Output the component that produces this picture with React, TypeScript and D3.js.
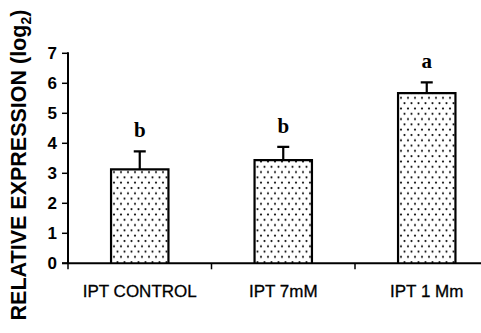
import { useRef, useEffect } from 'react';
import * as d3 from 'd3';

const categories = ['IPT CONTROL', 'IPT 7mM', 'IPT 1 Mm'];
const means = [3.13, 3.44, 5.67];
const errors = [0.6, 0.44, 0.36];
const letters = ['b', 'b', 'a'];
const yTicks = [0, 1, 2, 3, 4, 5, 6, 7];

function App() {
    const ref = useRef<SVGSVGElement>(null);

    useEffect(() => {
        document.body.style.margin = '0';
        const svg = d3.select(ref.current);
        svg.selectAll('*').remove();

        const x0 = 68, y0 = 263.3, yTop = 53.3;
        const bandW = 143.5;

        const x = d3.scaleBand<string>()
            .domain(categories)
            .range([x0, x0 + bandW * categories.length])
            .padding(0);
        const y = d3.scaleLinear().domain([0, 7]).range([y0, yTop]);

        const defs = svg.append('defs');
        const pat = defs.append('pattern')
            .attr('id', 'dots')
            .attr('patternUnits', 'userSpaceOnUse')
            .attr('width', 7)
            .attr('height', 10.6);
        pat.append('rect').attr('width', 7).attr('height', 10.6).attr('fill', 'white');
        pat.append('circle').attr('cx', 2).attr('cy', 2.5).attr('r', 1.1).attr('fill', '#111');
        pat.append('circle').attr('cx', 5.5).attr('cy', 7.8).attr('r', 1.1).attr('fill', '#111');

        const barW = bandW * 0.4;
        const g = svg.append('g');

        // bars
        categories.forEach((c, i) => {
            const cx = (x(c) as number) + x.bandwidth() / 2;
            const top = y(means[i]);
            g.append('rect')
                .attr('x', cx - barW / 2)
                .attr('y', top)
                .attr('width', barW)
                .attr('height', y0 - top)
                .attr('fill', 'url(#dots)');
            g.append('path')
                .attr('d', `M${cx - barW / 2},${y0}V${top}H${cx + barW / 2}V${y0}`)
                .attr('fill', 'none')
                .attr('stroke', '#000')
                .attr('stroke-width', 2.2);
            const capY = y(means[i] + errors[i]);
            g.append('path')
                .attr('d', `M${cx},${top}V${capY}M${cx - 6},${capY}H${cx + 6}`)
                .attr('stroke', '#000')
                .attr('stroke-width', 2.2);
            g.append('text')
                .attr('x', cx)
                .attr('y', capY - 14)
                .attr('text-anchor', 'middle')
                .style('font-family', '"Liberation Serif", "Times New Roman", serif')
                .style('font-weight', 'bold')
                .style('font-size', '21px')
                .text(letters[i]);
        });

        // y axis
        g.append('line')
            .attr('x1', x0).attr('x2', x0)
            .attr('y1', yTop - 1).attr('y2', y0)
            .attr('stroke', '#000').attr('stroke-width', 2);
        yTicks.forEach(t => {
            g.append('line')
                .attr('x1', x0 - 6).attr('x2', x0)
                .attr('y1', y(t)).attr('y2', y(t))
                .attr('stroke', '#000').attr('stroke-width', 1.5);
            g.append('text')
                .attr('x', 57)
                .attr('y', y(t) + 6)
                .attr('text-anchor', 'end')
                .style('font-family', '"Liberation Sans", Arial, sans-serif')
                .style('font-weight', 'bold')
                .style('font-size', '17px')
                .text(t);
        });

        // x axis
        g.append('line')
            .attr('x1', x0 - 6).attr('x2', 481)
            .attr('y1', y0).attr('y2', y0)
            .attr('stroke', '#000').attr('stroke-width', 2);
        categories.forEach(c => {
            const bx = x(c) as number;
            g.append('line')
                .attr('x1', bx).attr('x2', bx)
                .attr('y1', y0).attr('y2', y0 + 6)
                .attr('stroke', '#000').attr('stroke-width', 1.5);
            g.append('text')
                .attr('x', bx + x.bandwidth() / 2)
                .attr('y', 297)
                .attr('text-anchor', 'middle')
                .style('font-family', '"Liberation Sans", Arial, sans-serif')
                .style('font-size', '17px')
                .style('stroke', '#000')
                .style('stroke-width', 0.3)
                .text(c);
        });

        // y label
        const lab = g.append('text')
            .attr('transform', 'translate(26,165) rotate(-90)')
            .attr('text-anchor', 'middle')
            .style('font-family', '"Liberation Sans", Arial, sans-serif')
            .style('font-weight', 'bold')
            .style('font-size', '21.5px');
        lab.append('tspan').text('RELATIVE EXPRESSION (log');
        lab.append('tspan').attr('dy', 5).style('font-size', '14px').text('2');
        lab.append('tspan').attr('dy', -5).text(')');
    }, []);

    return <svg ref={ref} width={481} height={333} style={{ display: 'block', background: 'white' }} />;
}

export default App;
